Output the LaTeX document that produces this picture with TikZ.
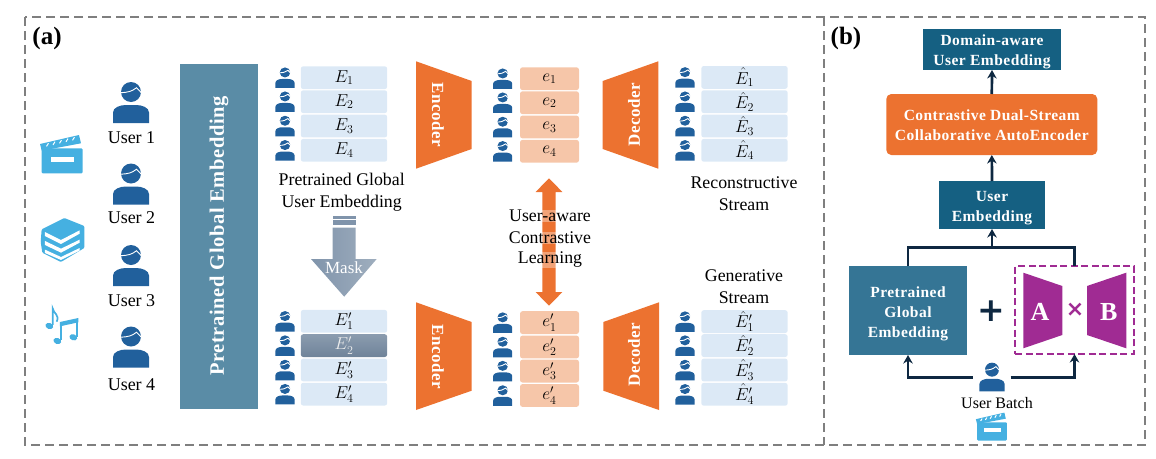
\documentclass[tikz,border=0pt]{standalone}
\usetikzlibrary{arrows.meta}
\usepackage{fontspec}
\setmainfont{Liberation Serif}
\newfontfamily\boxfont[LetterSpace=3]{Liberation Serif}
\newfontfamily\symfont{DejaVu Sans}
\definecolor{userblue}{HTML}{21609C}
\definecolor{iconblue}{HTML}{45B0E1}
\definecolor{barteal}{HTML}{5A8CA6}
\definecolor{boxblue}{HTML}{DCE9F6}
\definecolor{boxpeach}{HTML}{F6C6A9}
\definecolor{hotorange}{HTML}{EC7230}
\definecolor{deepteal}{HTML}{156082}
\definecolor{midteal}{HTML}{357595}
\definecolor{navy}{HTML}{0E2841}
\definecolor{plum}{HTML}{A02B93}
\definecolor{panelgray}{HTML}{7F7F7F}
\definecolor{maskdark}{HTML}{8094AB}
\definecolor{masklight}{HTML}{9FAEBE}
\definecolor{masktop}{HTML}{8B9CAF}
\definecolor{maskbot}{HTML}{6F8399}
\newcommand{\fsz}[1]{\fontsize{#1}{#1}\selectfont}
\newcommand{\firstline}[1]{\rule{0pt}{#1}}
\tikzset{
  userlabel/.style={font=\fsz{18}},
  caption/.style={font=\fsz{17.8},align=center},
  rowbox/.style={rounded corners=2.5pt,minimum width=#1,minimum height=22.8pt,inner sep=0pt,outer sep=0pt,font=\fsz{17.28}},
  ebox/.style={rowbox=86.4pt,fill=boxblue},
  codebox/.style={rowbox=59pt,fill=boxpeach},
  coder/.style={font=\boxfont\bfseries\fsz{17},text=white},
  solidbox/.style={align=center,text=white,font=\boxfont\bfseries\fsz{15.5},inner sep=0pt,outer sep=0pt},
  flow/.style={draw=navy,line width=2.7pt},
  usericon/.pic={
    \fill[userblue] (0,-10.5) circle (10);
    \fill[userblue] (-18,20.5) -- (-18,10) .. controls (-18,5) and (-11,2.5) .. (-5,2.5)
      -- (5,2.5) .. controls (11,2.5) and (18,5) .. (18,10) -- (18,20.5) -- cycle;
    \draw[white,line width=.9pt] (-10,-9.8) .. controls (-3,-10.2) and (1,-11) .. (5.5,-14.8)
      .. controls (7.5,-13.5) and (9,-10.5) .. (10.8,-9.2);
  },
  clapicon/.pic={
    \fill[iconblue,rounded corners=1pt] (-20.8,-6.4) rectangle (20,18.6);
    \fill[iconblue] (-22.5,-10.7) -- (16.5,-19.7) -- (18.5,-11.4) -- (-20.8,-4) -- cycle;
    \foreach \u/\v in {-15/-9.9,-8.5/-11.4,-2/-13,4.5/-14.5,11/-16}
      \draw[white,line width=1pt] (\u-1,\v+1.6) -- (\u+1,\v-1.6);
    \fill[white] (-11.8,2) rectangle (11.8,7.3);
  }
}
\begin{document}
\begin{tikzpicture}[x=1pt,y=-1pt,>={Stealth[length=8.5pt,width=9.5pt]}]
  \useasboundingbox (0,0) rectangle (1156,458);
  % panels
  \draw[panelgray,line width=1.6pt,dash pattern=on 9pt off 5pt] (25,17) rectangle (1145,445);
  \draw[panelgray,line width=1.6pt,dash pattern=on 9pt off 5pt] (824,17) -- (824,445);
  \node[font=\bfseries\fsz{25}] (tagA) at (47,38) {(a)};
  \node[font=\bfseries\fsz{25}] (tagB) at (846,38) {(b)};

  % domain icons
  \pic at (62.5,154.7) {clapicon};
  \begin{scope}[shift={(35,212)},scale=0.3333]
    \fill[iconblue,rounded corners=1pt] (88,18) -- (148,42) -- (148,108) -- (78,150) -- (22,122) -- (17,90) -- (20,52) -- cycle;
    \fill[white] (30,60) -- (78,84) -- (134,55) -- (134,65) -- (78,96) -- (30,72) -- cycle;
    \fill[white] (30,87) -- (78,110) -- (134,83) -- (134,92) -- (78,122) -- (30,99) -- cycle;
    \fill[white] (30,113) -- (78,135) -- (134,108) -- (134,116) -- (78,144) -- (30,123) -- cycle;
  \end{scope}
  \begin{scope}[shift={(30,200)},scale=0.3333]
    \fill[iconblue,rotate around={-20:(58,378)}] (58,378) ellipse (12 and 9);
    \draw[iconblue,line width=1.7pt] (68,375) -- (68,325) .. controls (70,340) and (90,345) .. (80,365);
    \fill[iconblue,rotate around={-20:(82,423)}] (82,423) ellipse (12 and 9);
    \fill[iconblue,rotate around={-20:(130,412)}] (130,412) ellipse (12 and 9);
    \draw[iconblue,line width=1.7pt] (92,420) -- (92,368);
    \draw[iconblue,line width=1.7pt] (142,410) -- (142,358);
    \fill[iconblue] (90,366) -- (145,354) -- (145,367) -- (90,379) -- cycle;
  \end{scope}

  % users
  \foreach \n/\ya/\yb in {1/102.5/138,2/184/218,3/265.5/301,4/347/385}{
    \pic at (131,\ya) {usericon};
    \node[userlabel] (user\n) at (131.5,\yb) {User \n};
  }

  % global embedding bar
  \fill[barteal] (180,64) rectangle (258,409);
  \node[rotate=90,text=white,font=\boxfont\bfseries\fsz{20.5}] (barlabel) at (219,236) {Pretrained Global Embedding};

  % top row of boxes
  \foreach \n/\y in {1/77.7,2/101.7,3/126,4/150.3}{
    \pic[xscale=.53,yscale=.5] at (285,\y) {usericon};
    \node[ebox] (E\n) at (344,\y) {$E_\n$};
  }
  \foreach \n/\y in {1/78.7,2/102.7,3/127,4/151.3}{
    \pic[xscale=.53,yscale=.5] at (502.7,\y) {usericon};
    \node[codebox] (e\n) at (549.5,\y) {$e_\n$};
  }
  \foreach \n/\y in {1/77.4,2/101.7,3/126,4/150.3}{
    \pic[xscale=.53,yscale=.5] at (685,\y) {usericon};
    \node[ebox] (Ehat\n) at (744.5,\y) {$\hat{E}_\n$};
  }

  % bottom row of boxes
  \foreach \n/\y in {1/321.3,3/370,4/394.2}{
    \node[ebox] (Ep\n) at (344,\y) {$E'_\n$};
  }
  \node[rowbox=86.4pt,top color=masktop,bottom color=maskbot,text=white!85!gray] (Ep2) at (344,345.6) {$E'_2$};
  \foreach \y in {321.3,345.6,370,394.2}
    \pic[xscale=.53,yscale=.5] at (285,\y) {usericon};
  \foreach \n/\y in {1/322.6,2/347,3/371.1,4/395.5}{
    \pic[xscale=.53,yscale=.5] at (502.7,\y) {usericon};
    \node[codebox] (ep\n) at (549.5,\y) {$e'_\n$};
  }
  \foreach \n/\y in {1/321.6,2/345.6,3/370,4/394.3}{
    \pic[xscale=.53,yscale=.5] at (685,\y) {usericon};
    \node[ebox] (Ehatp\n) at (744.5,\y) {$\hat{E}'_\n$};
  }

  % encoders and decoders
  \fill[hotorange] (416,61.3) -- (471.7,81) -- (471.7,149) -- (416,168.7) -- cycle;
  \fill[hotorange] (416,302.3) -- (471.7,322) -- (471.7,390.7) -- (416,410) -- cycle;
  \fill[hotorange] (658.3,61.3) -- (602.7,81) -- (602.7,149) -- (658.3,168.7) -- cycle;
  \fill[hotorange] (659,302.3) -- (603.3,322) -- (603.3,390.7) -- (659,410) -- cycle;
  \node[coder,rotate=-90] (enctop) at (438,115) {Encoder};
  \node[coder,rotate=-90] (encbot) at (438,357) {Encoder};
  \node[coder,rotate=90] (dectop) at (634,115) {Decoder};
  \node[coder,rotate=90] (decbot) at (634,355) {Decoder};

  % texts beside the boxes
  \node[caption] (globaltxt) at (341.7,192.5) {Pretrained Global\\[4.3pt]User Embedding};
  \node[caption] (recontxt) at (744,194) {Reconstructive\\[4.3pt]Stream};
  \node[caption] (gentxt) at (744,286.8) {Generative\\[4.3pt]Stream};

  % mask arrow
  \fill[maskdark] (332.7,216) rectangle (355.7,219);
  \fill[maskdark] (332.7,220.3) rectangle (355.7,225);
  \shade[left color=maskdark,right color=masklight]
    (332.7,227.7) -- (355.7,227.7) -- (355.7,259) -- (376.7,259) -- (344.2,296.7)
    -- (311,259) -- (332.7,259) -- cycle;
  \node[text=white,font=\fsz{17}] (masktxt) at (344,268) {Mask};

  % contrastive arrow
  \fill[hotorange] (549,178.3) -- (562.4,192) -- (555.7,192) -- (555.7,292) -- (562.4,292)
    -- (549,305.7) -- (535.6,292) -- (542.3,292) -- (542.3,192) -- (535.6,192) -- cycle;
  \foreach \nm/\y/\t in {cla/216/User-aware,clb/238/Contrastive,clc/260/Learning}
    \node[caption,fill=white,fill opacity=.35,text opacity=1,inner sep=0pt] (\nm) at (550,\y) {\t};

  % panel b
  \node[solidbox,fill=deepteal,minimum width=138pt,minimum height=41pt] (domain) at (992,49.5) {\firstline{14.5pt}Domain-aware\\[4.5pt]User Embedding};
  \node[solidbox,fill=hotorange,rounded corners=5pt,minimum width=211pt,minimum height=61pt] (cdcae) at (991.8,124.5) {\firstline{12.5pt}Contrastive Dual-Stream\\[4.5pt]Collaborative AutoEncoder};
  \node[solidbox,fill=deepteal,minimum width=106pt,minimum height=48pt] (userembed) at (992,205) {\firstline{16.5pt}User\\[4.5pt]Embedding};
  \node[solidbox,fill=midteal,minimum width=118pt,minimum height=89pt] (pretrained) at (908,310.5) {\firstline{16.5pt}Pretrained\\[4.5pt]Global\\[4.5pt]Embedding};
  \node[text=navy,font=\symfont\bfseries\fsz{33}] (plus) at (991,311) {+};
  \node[draw=plum,line width=2pt,dash pattern=on 7pt off 3.5pt,minimum width=118.4pt,minimum height=88pt,inner sep=0pt,outer sep=0pt] (abbox) at (1074.5,310) {};
  \fill[plum] (1023.3,272.7) -- (1062.3,286) -- (1062.3,335) -- (1023.3,348.3) -- cycle;
  \fill[plum] (1126.3,272.7) -- (1087,286) -- (1087,335) -- (1126.3,348.3) -- cycle;
  \node[text=white,font=\bfseries\fsz{26}] (letterA) at (1040,311.7) {A};
  \node[text=white,font=\bfseries\fsz{26}] (letterB) at (1108.7,311.7) {B};
  \node[text=plum,font=\symfont\bfseries\fsz{22}] (times) at (1075,310.3) {×};
  \pic[scale=.7] at (992,377) {usericon};
  \node[minimum width=38pt,inner sep=0pt,outer sep=0pt] (batch) at (991.5,377.3) {};
  \node[font=\fsz{16}] (batchtxt) at (997,403.3) {User Batch};
  \pic[scale=.73] at (992.3,427) {clapicon};

  % connectors
  \coordinate (merge) at (992,247.3);
  \draw[flow] (pretrained.north) |- (merge);
  \draw[flow] (abbox.north) |- (merge);
  \draw[flow,->] (merge) -- (userembed.south);
  \draw[flow,->] (userembed.north) -- (cdcae.south);
  \draw[flow,->] (cdcae.north) -- (domain.south);
  \draw[flow,->] (batch.west) -| (pretrained.south);
  \draw[flow,->] (batch.east) -| (abbox.south);
\end{tikzpicture}
\end{document}
